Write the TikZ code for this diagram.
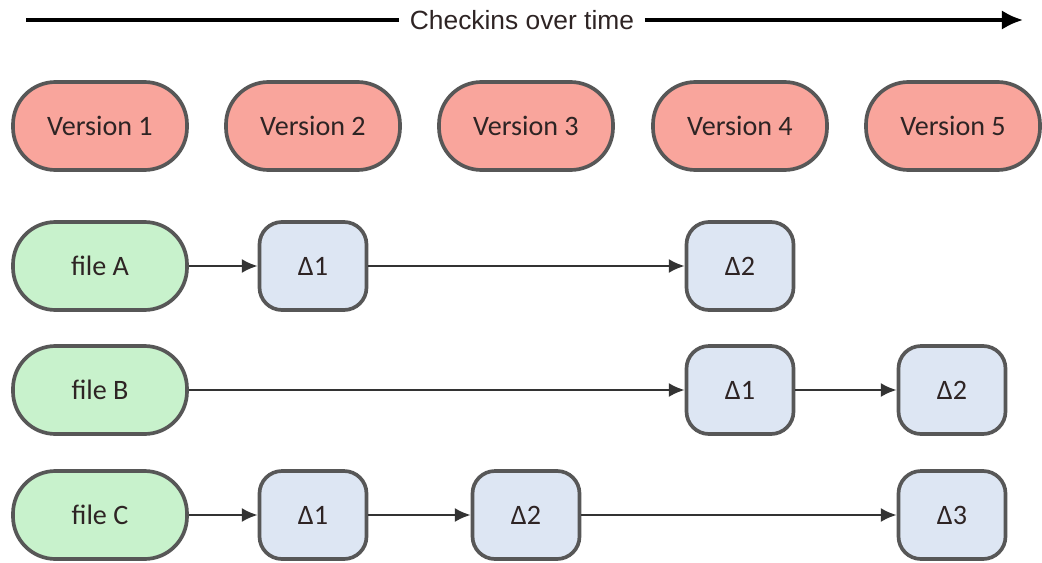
\documentclass[tikz,border=0pt]{standalone}
\usepackage{fontspec}
\setmainfont{Carlito}
\newfontfamily\titrefont{Liberation Sans}
\usetikzlibrary{arrows.meta}

\definecolor{rose}{HTML}{F9A59C}
\definecolor{vert}{HTML}{C8F2CC}
\definecolor{bleu}{HTML}{DDE6F3}
\definecolor{bord}{HTML}{575757}
\definecolor{trait}{HTML}{333333}
\definecolor{texte}{HTML}{2E2424}

\tikzset{
  boite/.style={draw=bord, line width=2.1pt, minimum height=1.76cm, inner sep=0pt,
    text=texte, font=\fontsize{16}{18}\selectfont},
  version/.style={boite, fill=rose, minimum width=3.48cm, rounded corners=0.85cm},
  fichier/.style={boite, fill=vert, minimum width=3.48cm, rounded corners=0.85cm},
  delta/.style={boite, fill=bleu, minimum width=2.14cm, rounded corners=0.45cm},
  fleche/.style={draw=trait, line width=1.3pt, -{Latex[length=9pt,width=8pt]}}
}

\begin{document}
\begin{tikzpicture}
   \useasboundingbox (0,0) rectangle (20.84,-11.26);

   % Ligne du temps
   \coordinate (debut) at (0.52,-0.4);
   \coordinate (fin) at (20.46,-0.4);
   \node[font=\titrefont\fontsize{15}{18}\selectfont, text=texte, inner xsep=6pt] (titre) at (10.44,-0.4) {Checkins over time};
   \draw[line width=2pt] (debut) -- (titre);
   \draw[line width=2pt, -{Latex[length=12pt,width=11pt]}] (titre) -- (fin);

   \node[version] (v1) at (2.0,-2.52) {Version 1};
   \node[version] (v2) at (6.26,-2.52) {Version 2};
   \node[version] (v3) at (10.52,-2.52) {Version 3};
   \node[version] (v4) at (14.8,-2.52) {Version 4};
   \node[version] (v5) at (19.06,-2.52) {Version 5};

   % Fichiers et leurs deltas
   \node[fichier] (fA) at (2.0,-5.32) {file A};
   \node[delta] (dA1) at (6.26,-5.32) {Δ1};
   \node[delta] (dA2) at (14.8,-5.32) {Δ2};

   \node[fichier] (fB) at (2.0,-7.8) {file B};
   \node[delta] (dB1) at (14.8,-7.8) {Δ1};
   \node[delta] (dB2) at (19.04,-7.8) {Δ2};

   \node[fichier] (fC) at (2.0,-10.3) {file C};
   \node[delta] (dC1) at (6.26,-10.3) {Δ1};
   \node[delta] (dC2) at (10.52,-10.3) {Δ2};
   \node[delta] (dC3) at (19.04,-10.3) {Δ3};

   \draw[fleche] (fA) -- (dA1);
   \draw[fleche] (dA1) -- (dA2);
   \draw[fleche] (fB) -- (dB1);
   \draw[fleche] (dB1) -- (dB2);
   \draw[fleche] (fC) -- (dC1);
   \draw[fleche] (dC1) -- (dC2);
   \draw[fleche] (dC2) -- (dC3);
\end{tikzpicture}
\end{document}
